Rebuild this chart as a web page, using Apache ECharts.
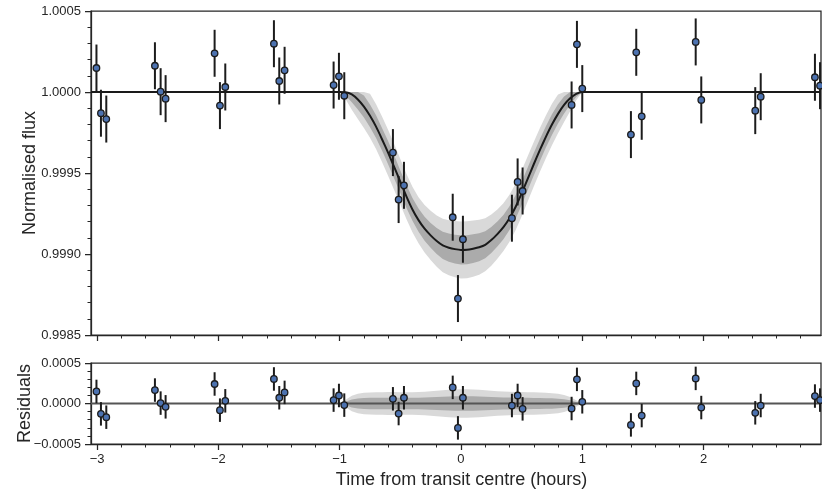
<!DOCTYPE html>
<html><head><meta charset="utf-8">
<script src="https://cdn.jsdelivr.net/npm/echarts@6/dist/echarts.min.js"></script>
<style>html,body{margin:0;padding:0;background:#fff}#c{width:822px;height:490px}</style>
</head><body><div id="c"></div>
<script>
// ---- data ----
const times = [-3.005, -2.968, -2.924, -2.523, -2.476, -2.435, -2.031, -1.987, -1.943, -1.542, -1.498, -1.454, -1.050, -1.006, -0.962, -0.561, -0.514, -0.470, -0.068, -0.025, 0.016, 0.420, 0.467, 0.508, 0.912, 0.956, 1.000, 1.401, 1.445, 1.490, 1.935, 1.981, 2.426, 2.471, 2.918, 2.960];
const flux = [1.000148, 0.999869, 0.999833, 1.000162, 1.000002, 0.999959, 1.000239, 0.999916, 1.000031, 1.000298, 1.000068, 1.000134, 1.000043, 1.000097, 0.999977, 0.999626, 0.999336, 0.999424, 0.999227, 0.998725, 0.999091, 0.999221, 0.999445, 0.999389, 0.999920, 1.000294, 1.000021, 0.999737, 1.000245, 0.999850, 1.000309, 0.999951, 0.999885, 0.999971, 1.000091, 1.000039];
const fluxErr = [0.000145, 0.000145, 0.000145, 0.000145, 0.000145, 0.000145, 0.000145, 0.000145, 0.000145, 0.000145, 0.000145, 0.000145, 0.000145, 0.000145, 0.000145, 0.000145, 0.000145, 0.000145, 0.000145, 0.000145, 0.000145, 0.000145, 0.000145, 0.000145, 0.000145, 0.000145, 0.000145, 0.000145, 0.000145, 0.000145, 0.000145, 0.000145, 0.000145, 0.000145, 0.000145, 0.000145];
const residuals = [0.000149, -0.000128, -0.000169, 0.000166, 0.000005, -0.000041, 0.000241, -0.000082, 0.000033, 0.000303, 0.000071, 0.000137, 0.000042, 0.000099, -0.000020, 0.000058, -0.000124, 0.000071, 0.000199, -0.000301, 0.000071, -0.000025, 0.000099, -0.000066, -0.000062, 0.000298, 0.000021, -0.000264, 0.000248, -0.000149, 0.000310, -0.000050, -0.000115, -0.000025, 0.000092, 0.000042];
const residErr = fluxErr;

// transit model (depth in ppm below 1.0) sampled along time
const modelTimes = [-3.05, -1.00, -0.95, -0.90, -0.85, -0.80, -0.75, -0.70, -0.65, -0.60, -0.55, -0.50, -0.45, -0.40, -0.35, -0.30, -0.25, -0.20, -0.15, -0.10, -0.05, 0.00, 0.05, 0.10, 0.15, 0.20, 0.25, 0.30, 0.35, 0.40, 0.45, 0.50, 0.55, 0.60, 0.65, 0.70, 0.75, 0.80, 0.85, 0.90, 0.95, 1.00, 2.968];
const modelDepthPpm = [0, 0, 1, 15, 46, 90, 147, 214, 293, 376, 464, 554, 644, 725, 791, 844, 885, 920, 947, 961, 970, 975, 974, 967, 958, 943, 914, 877, 834, 779, 710, 626, 536, 446, 359, 277, 201, 135, 80, 39, 11, 0, 0];
// half-widths of the 1-sigma and 2-sigma model envelopes (ppm)
const band1Ppm = [0, 0, 22, 48, 62, 68, 70, 70, 70, 72, 72, 70, 70, 70, 72, 74, 77, 80, 84, 87, 89, 90, 90, 89, 86, 83, 80, 77, 75, 73, 72, 71, 70, 69, 68, 66, 64, 60, 52, 40, 20, 0, 0];
const band2Ppm = [0, 0, 45, 95, 120, 132, 136, 138, 140, 142, 142, 140, 140, 140, 142, 146, 152, 158, 165, 170, 174, 176, 176, 174, 170, 164, 158, 152, 148, 145, 143, 142, 140, 138, 135, 132, 128, 120, 105, 80, 40, 0, 0];

// ticks
const xMajorTicks = [-3, -2, -1, 0, 1, 2];
const xTickLabels = ['\u22123', '\u22122', '\u22121', '0', '1', '2'];
const xMinorTicks = [-3.0, -2.8, -2.6, -2.4, -2.2, -2.0, -1.8, -1.6, -1.4, -1.2, -1.0, -0.8, -0.6, -0.4, -0.2, 0.0, 0.2, 0.4, 0.6, 0.8, 1.0, 1.2, 1.4, 1.6, 1.8, 2.0, 2.2, 2.4, 2.6, 2.8];
const fluxTicks = [0.9985, 0.9990, 0.9995, 1.0000, 1.0005];
const fluxTickLabels = ['0.9985', '0.9990', '0.9995', '1.0000', '1.0005'];
const fluxMinorTicks = [0.9985, 0.9986, 0.9987, 0.9988, 0.9989, 0.9990, 0.9991, 0.9992, 0.9993, 0.9994, 0.9995, 0.9996, 0.9997, 0.9998, 0.9999, 1.0000, 1.0001, 1.0002, 1.0003, 1.0004, 1.0005];
const residTicks = [-0.0005, 0.0000, 0.0005];
const residTickLabels = ['\u22120.0005', '0.0000', '0.0005'];
const residMinorTicks = [-0.0005, -0.0004, -0.0003, -0.0002, -0.0001, 0.0000, 0.0001, 0.0002, 0.0003, 0.0004, 0.0005];

// ---- chart ----
const FONT = 'Liberation Sans, Arial, Helvetica, sans-serif';
const INK = '#262626';
const X_MIN = -3.05, X_MAX = 2.968;

function labelFor(ticks, labels) {
  return function (v) {
    for (let i = 0; i < ticks.length; i++) if (Math.abs(ticks[i] - v) < 1e-9) return labels[i];
    return '';
  };
}
const modelFlux = modelDepthPpm.map(d => 1 - d * 1e-6);

function bandSeries(grid, widths, color, isResid, z) {
  const upper = modelTimes.map((t, i) => isResid ? widths[i] * 1e-6 : Math.min(1, modelFlux[i] + widths[i] * 1e-6));
  const lower = modelTimes.map((t, i) => isResid ? -widths[i] * 1e-6 : modelFlux[i] - widths[i] * 1e-6);
  return {
    type: 'custom', xAxisIndex: grid * 2, yAxisIndex: grid * 2, silent: true, z: z,
    data: [[0, isResid ? 0 : 1]],
    renderItem: function (params, api) {
      const pts = [];
      for (let i = 0; i < modelTimes.length; i++) pts.push(api.coord([modelTimes[i], upper[i]]));
      for (let i = modelTimes.length - 1; i >= 0; i--) pts.push(api.coord([modelTimes[i], lower[i]]));
      return { type: 'polygon', shape: { points: pts }, style: { fill: color } };
    }
  };
}
function errSeries(grid, ys, errs) {
  return {
    type: 'custom', xAxisIndex: grid * 2, yAxisIndex: grid * 2, silent: true, z: 4,
    data: times.map((t, i) => [t, ys[i], errs[i]]),
    encode: { x: 0, y: 1 },
    renderItem: function (params, api) {
      const x = api.value(0), y = api.value(1), e = api.value(2);
      const a = api.coord([x, y - e]), b = api.coord([x, y + e]);
      return { type: 'line', shape: { x1: a[0], y1: a[1], x2: b[0], y2: b[1] }, style: { stroke: '#1c1c1c', lineWidth: 2 } };
    }
  };
}
function pointSeries(grid, ys) {
  return {
    type: 'scatter', xAxisIndex: grid * 2, yAxisIndex: grid * 2, z: 5,
    data: times.map((t, i) => [t, ys[i]]),
    symbol: 'circle', symbolSize: 6.5,
    itemStyle: { color: '#4c72b0', borderColor: '#1a1a1a', borderWidth: 1.3, opacity: 1 }
  };
}
function xAxes(grid, withLabels) {
  const major = {
    type: 'value', gridIndex: grid, min: X_MIN, max: X_MAX, position: 'bottom', offset: 0,
    axisLine: { show: true, onZero: false, lineStyle: { color: INK, width: 1.25 } },
    axisTick: { show: true, customValues: xMajorTicks, length: 6, lineStyle: { color: INK, width: 1.25 } },
    axisLabel: { show: withLabels, customValues: xMajorTicks, formatter: labelFor(xMajorTicks, xTickLabels), fontSize: 13, color: INK, fontFamily: FONT, margin: 9 },
    splitLine: { show: false }
  };
  if (withLabels) {
    major.name = 'Time from transit centre (hours)';
    major.nameLocation = 'middle';
    major.nameGap = 27;
    major.nameMoveOverlap = false;
    major.nameTextStyle = { fontSize: 18, color: INK, fontFamily: FONT, padding: [0, 0, 0, 11] };
  }
  const minor = {
    type: 'value', gridIndex: grid, min: X_MIN, max: X_MAX, position: 'bottom', offset: 0,
    axisLine: { show: false, onZero: false },
    axisTick: { show: true, customValues: xMinorTicks, length: 3.5, lineStyle: { color: INK, width: 1 } },
    axisLabel: { show: false }, splitLine: { show: false }
  };
  return [major, minor];
}
function yAxes(grid, min, max, ticks, labels, minorTicks, name, gap) {
  return [{
    type: 'value', gridIndex: grid, min: min, max: max, position: 'left', offset: 0,
    axisLine: { show: true, onZero: false, lineStyle: { color: INK, width: 1.25 } },
    axisTick: { show: true, customValues: ticks, length: 6, lineStyle: { color: INK, width: 1.25 } },
    axisLabel: { show: true, customValues: ticks, formatter: labelFor(ticks, labels), fontSize: 13, color: INK, fontFamily: FONT, margin: 10 },
    splitLine: { show: false },
    name: name, nameLocation: 'middle', nameGap: gap, nameRotate: 90, nameMoveOverlap: false,
    nameTextStyle: { fontSize: 18, color: INK, fontFamily: FONT }
  }, {
    type: 'value', gridIndex: grid, min: min, max: max, position: 'left', offset: 0,
    axisLine: { show: false, onZero: false },
    axisTick: { show: true, customValues: minorTicks, length: 3.5, lineStyle: { color: INK, width: 1 } },
    axisLabel: { show: false }, splitLine: { show: false }
  }];
}

const chart = echarts.init(document.getElementById('c'), null, { renderer: 'canvas' });
chart.setOption({
  animation: false,
  backgroundColor: '#ffffff',
  grid: [
    { left: 91, top: 11, width: 730, height: 324, show: true, borderColor: INK, borderWidth: 1.25, backgroundColor: 'transparent' },
    { left: 91, top: 363, width: 730, height: 81, show: true, borderColor: INK, borderWidth: 1.25, backgroundColor: 'transparent' }
  ],
  xAxis: [].concat(xAxes(0, false), xAxes(1, true)),
  yAxis: [].concat(
    yAxes(0, 0.9985, 1.0005, fluxTicks, fluxTickLabels, fluxMinorTicks, 'Normalised flux', 52),
    yAxes(1, -0.0005, 0.0005, residTicks, residTickLabels, residMinorTicks, 'Residuals', 57)
  ),
  series: [
    bandSeries(0, band2Ppm, '#d9d9d9', false, 1),
    bandSeries(0, band1Ppm, '#ababab', false, 2),
    {
      type: 'line', xAxisIndex: 0, yAxisIndex: 0, z: 3, silent: true,
      data: modelTimes.map((t, i) => [t, modelFlux[i]]),
      symbol: 'none', smooth: 0.2, lineStyle: { color: '#1a1a1a', width: 2 }
    },
    errSeries(0, flux, fluxErr),
    pointSeries(0, flux),
    bandSeries(1, band2Ppm, '#d9d9d9', true, 1),
    bandSeries(1, band1Ppm, '#ababab', true, 2),
    {
      type: 'line', xAxisIndex: 2, yAxisIndex: 2, z: 3, silent: true,
      data: [[X_MIN, 0], [X_MAX, 0]],
      symbol: 'none', lineStyle: { color: '#555555', width: 2 }
    },
    errSeries(1, residuals, residErr),
    pointSeries(1, residuals)
  ]
});
</script>
</body></html>
